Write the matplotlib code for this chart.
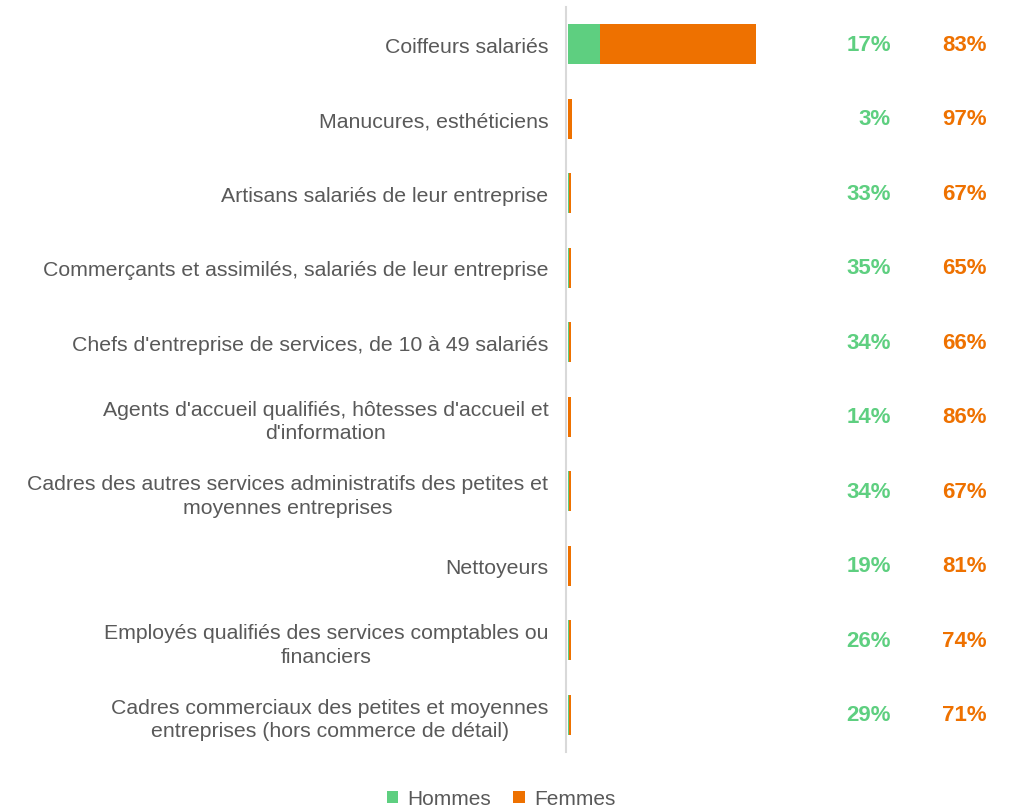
import matplotlib
matplotlib.use('Agg')
import matplotlib.pyplot as plt
import matplotlib.transforms as mtransforms
import numpy as np

# Metiers (top to bottom)
metiers = ['Coiffeurs salariés',
           'Manucures, esthéticiens',
           'Artisans salariés de leur entreprise',
           'Commerçants et assimilés, salariés de leur entreprise',
           "Chefs d'entreprise de services, de 10 à 49 salariés",
           "Agents d'accueil qualifiés, hôtesses d'accueil et\nd'information",
           'Cadres des autres services administratifs des petites et\nmoyennes entreprises',
           'Nettoyeurs',
           'Employés qualifiés des services comptables ou\nfinanciers',
           'Cadres commerciaux des petites et moyennes\nentreprises (hors commerce de détail)']

# Effectifs relatifs (Coiffeurs = 100)
hommes = [17, 0.06, 0.45, 0.47, 0.46, 0.19, 0.46, 0.26, 0.35, 0.39]
femmes = [83, 2.10, 0.90, 0.88, 0.89, 1.16, 0.90, 1.09, 1.00, 0.96]

# Parts affichées
part_hommes = ['17%', '3%', '33%', '35%', '34%', '14%', '34%', '19%', '26%', '29%']
part_femmes = ['83%', '97%', '67%', '65%', '66%', '86%', '67%', '81%', '74%', '71%']

vert = '#5ecf80'
orange = '#ee7100'
gris = '#595959'

plt.rcParams['font.family'] = ['Liberation Sans', 'DejaVu Sans']

fig = plt.figure(figsize=(10.10, 8.12), dpi=100)
ax = fig.add_axes([568 / 1010, 1 - 753 / 812, (808 - 568) / 1010, 745 / 812])

# spine first: set_position resets tick label styling
for s in ['top', 'right', 'bottom']:
    ax.spines[s].set_visible(False)
ax.spines['left'].set_position(('outward', 1.2))
ax.spines['left'].set_color('#d9d9d9')
ax.spines['left'].set_linewidth(1.5)

y = np.arange(len(metiers))
ax.barh(y, hommes, height=0.54, color=vert, label='Hommes')
ax.barh(y, femmes, left=hommes, height=0.54, color=orange, label='Femmes')

ax.set_xlim(0, 127.7)
ax.set_ylim(len(metiers) - 0.5, -0.5)
ax.set_yticks(y)
ax.set_yticklabels(metiers, fontsize=15.3, color=gris, linespacing=1.3)
for lab in ax.get_yticklabels():
    lab.set_multialignment('center')
ax.tick_params(axis='y', length=0, pad=13)
ax.set_xticks([])

trans = mtransforms.blended_transform_factory(fig.transFigure, ax.transData)
for i in range(len(metiers)):
    ax.text(891 / 1010, i, part_hommes[i], transform=trans, ha='right', va='center',
            fontsize=16, fontweight='bold', color=vert)
    ax.text(987 / 1010, i, part_femmes[i], transform=trans, ha='right', va='center',
            fontsize=16, fontweight='bold', color=orange)

fig.legend(loc='center', bbox_to_anchor=(501 / 1010, 1 - 800 / 812), ncol=2, frameon=False,
           fontsize=15, labelcolor=gris, handlelength=0.55, handleheight=0.55,
           handletextpad=0.45, columnspacing=1.05)

fig.savefig('out.png', dpi=100)
